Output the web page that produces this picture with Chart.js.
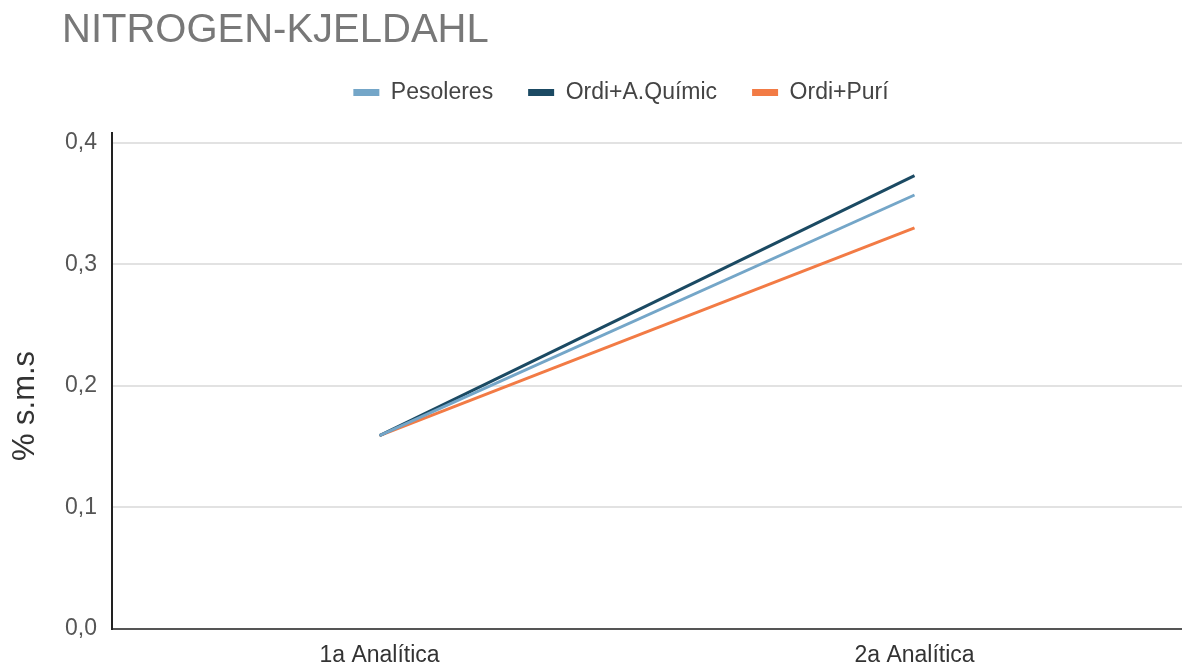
<!DOCTYPE html>
<html>
<head>
<meta charset="utf-8">
<script src="https://cdn.jsdelivr.net/npm/chart.js@4/dist/chart.umd.min.js"></script>
<style>
  html, body { margin: 0; padding: 0; background: #ffffff; }
  #wrap { position: relative; width: 1182px; height: 668px; }
  #title {
    position: absolute; left: 62px; top: 8px; margin: 0;
    font-family: 'Liberation Sans', Arial, sans-serif;
    font-size: 40px; line-height: 40px; font-weight: normal;
    color: #787878; white-space: nowrap;
  }
  canvas { position: absolute; left: 0; top: 0; }
</style>
</head>
<body>
<div id="wrap">
  <canvas id="chart" width="1182" height="668"></canvas>
  <h1 id="title">NITROGEN-KJELDAHL</h1>
</div>
<script>
// Sampling rounds on the x axis
const categories = ['1a Analítica', '2a Analítica'];

// Kjeldahl nitrogen, % on dry matter
const pesoleres = [0.159, 0.357];
const ordiQuimic = [0.159, 0.373];
const ordiPuri = [0.159, 0.330];

const seriesNames = ['Pesoleres', 'Ordi+A.Químic', 'Ordi+Purí'];
const seriesColors = ['#74a6c8', '#1b4a63', '#f27b45'];

// Value axis
const yTickValues = [0, 0.1, 0.2, 0.3, 0.4];
const yAxisTitle = '% s.m.s';
const yMin = 0;
const yMax = 0.408;

Chart.defaults.font.family = "'Liberation Sans', Arial, sans-serif";
Chart.defaults.color = '#444444';

const seriesValues = [pesoleres, ordiQuimic, ordiPuri];
const datasets = seriesNames.map((name, i) => ({
  label: name,
  data: seriesValues[i],
  borderColor: seriesColors[i],
  backgroundColor: seriesColors[i],
  borderWidth: 3,
  pointRadius: 0,
  pointHoverRadius: 0,
  tension: 0,
  fill: false
}));

// Leaves some room between the legend row and the plot
const legendGap = {
  id: 'legendGap',
  beforeInit(chart) {
    const fit = chart.legend.fit;
    chart.legend.fit = function () {
      fit.call(this);
      this.height += 19;
    };
  }
};

// Rotated value-axis caption, set a little below the plot's middle
const yCaption = {
  id: 'yCaption',
  afterDraw(chart) {
    const { ctx, chartArea } = chart;
    ctx.save();
    ctx.translate(25, (chartArea.top + chartArea.bottom) / 2 + 25);
    ctx.rotate(-Math.PI / 2);
    ctx.font = "31px 'Liberation Sans', Arial, sans-serif";
    ctx.fillStyle = '#333333';
    ctx.textAlign = 'center';
    ctx.textBaseline = 'middle';
    ctx.fillText(yAxisTitle, 0, 0);
    ctx.restore();
  }
};

new Chart(document.getElementById('chart'), {
  type: 'line',
  data: { labels: categories, datasets: datasets },
  plugins: [legendGap, yCaption],
  options: {
    responsive: false,
    animation: false,
    layout: { padding: { left: 60, right: 0, top: 46, bottom: 0 } },
    plugins: {
      legend: {
        display: true,
        position: 'top',
        align: 'center',
        labels: {
          boxWidth: 26,
          boxHeight: 7,
          padding: 35,
          color: '#444444',
          font: { size: 23 },
          generateLabels: (chart) =>
            Chart.defaults.plugins.legend.labels.generateLabels(chart)
              .map(item => Object.assign(item, { lineWidth: 0 }))
        }
      },
      title: { display: false },
      tooltip: { enabled: false }
    },
    scales: {
      x: {
        offset: true,
        grid: { display: false, drawTicks: false },
        border: { display: true, color: '#555555', width: 2 },
        ticks: { color: '#333333', font: { size: 23 }, padding: 13, maxRotation: 0 },
        afterFit: (scale) => { scale.height = 39; }
      },
      y: {
        min: yMin,
        max: yMax,
        ticks: {
          color: '#555555',
          font: { size: 23 },
          padding: 15,
          callback: (v) => v.toFixed(1).replace('.', ',')
        },
        afterBuildTicks: (axis) => {
          axis.ticks = yTickValues.map(v => ({ value: v }));
        },
        grid: { color: '#e2e2e2', lineWidth: 2, drawTicks: false },
        border: { display: true, color: '#222222', width: 2 },
        title: { display: false },
        afterFit: (scale) => { scale.width = 52; }
      }
    }
  }
});
</script>
</body>
</html>
